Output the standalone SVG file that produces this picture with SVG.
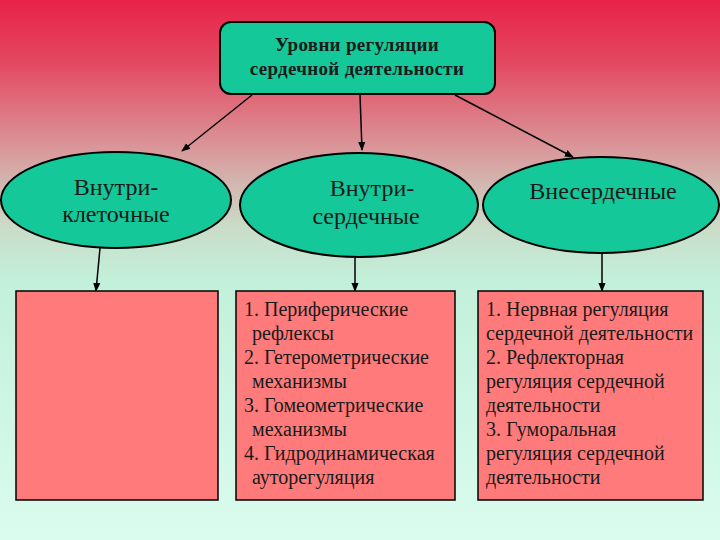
<svg xmlns="http://www.w3.org/2000/svg" width="720" height="540" viewBox="0 0 720 540">
<defs>
<linearGradient id="bg" x1="0" y1="0" x2="0" y2="1">
<stop offset="0" stop-color="#e82248"/>
<stop offset="0.12" stop-color="#e34a62"/>
<stop offset="0.28" stop-color="#d99a9c"/>
<stop offset="0.42" stop-color="#cadcc8"/>
<stop offset="0.52" stop-color="#c2f0da"/>
<stop offset="1" stop-color="#dafcee"/>
</linearGradient>
<marker id="ah" viewBox="0 0 10 10" refX="9" refY="5" markerWidth="6" markerHeight="6" orient="auto">
<path d="M0,1 L10,5 L0,9 z" fill="#000"/>
</marker>
<style>
.oval{fill:#14c899;stroke:#000;stroke-width:2}
.box{fill:#ff7b7b;stroke:#000;stroke-width:1.5}
.conn line{stroke:#000;stroke-width:1.5;marker-end:url(#ah)}
.t{font-family:"Liberation Serif","Times New Roman",serif;fill:#1a1a1a}
.tt{font-size:19px;font-weight:bold;text-anchor:middle;letter-spacing:0.3px}
.ot{font-size:24px;text-anchor:middle}
.bt{font-size:20px}
</style>
</defs>
<rect width="720" height="540" fill="url(#bg)"/>
<g class="conn">
<line x1="252" y1="95" x2="182" y2="151"/>
<line x1="360" y1="95" x2="362" y2="150"/>
<line x1="455" y1="95" x2="573" y2="157"/>
<line x1="100" y1="248" x2="96" y2="291"/>
<line x1="355" y1="258" x2="355" y2="291"/>
<line x1="602" y1="254" x2="602" y2="291"/>
</g>
<g id="top">
<rect x="220" y="22" width="275" height="72" rx="11" fill="#14c899" stroke="#000" stroke-width="2"/>
<text class="t tt" x="357" y="51">Уровни регуляции</text>
<text class="t tt" x="357" y="75">сердечной деятельности</text>
</g>
<g id="intracell">
<ellipse class="oval" cx="116" cy="200" rx="115" ry="48"/>
<text class="t ot" x="116" y="195">Внутри-</text>
<text class="t ot" x="116" y="222">клеточные</text>
</g>
<g id="intracard">
<ellipse class="oval" cx="359" cy="205" rx="119" ry="52"/>
<text class="t ot" x="372" y="196">Внутри-</text>
<text class="t ot" x="366" y="224">сердечные</text>
</g>
<g id="extracard">
<ellipse class="oval" cx="601" cy="205" rx="118" ry="48"/>
<text class="t ot" x="603" y="199">Внесердечные</text>
</g>
<g id="box1">
<rect class="box" x="16" y="291" width="202" height="209"/>
</g>
<g id="box2">
<rect class="box" x="236" y="291" width="219" height="209"/>
<text class="t bt" x="244" y="316">1. Периферические</text>
<text class="t bt" x="252" y="340">рефлексы</text>
<text class="t bt" x="244" y="364">2. Гетерометрические</text>
<text class="t bt" x="252" y="388">механизмы</text>
<text class="t bt" x="244" y="412">3. Гомеометрические</text>
<text class="t bt" x="252" y="436">механизмы</text>
<text class="t bt" x="244" y="460">4. Гидродинамическая</text>
<text class="t bt" x="252" y="484">ауторегуляция</text>
</g>
<g id="box3">
<rect class="box" x="478" y="291" width="225" height="209"/>
<text class="t bt" x="486" y="316">1. Нервная регуляция</text>
<text class="t bt" x="486" y="340">сердечной деятельности</text>
<text class="t bt" x="486" y="364">2. Рефлекторная</text>
<text class="t bt" x="486" y="388">регуляция сердечной</text>
<text class="t bt" x="486" y="412">деятельности</text>
<text class="t bt" x="486" y="436">3. Гуморальная</text>
<text class="t bt" x="486" y="460">регуляция сердечной</text>
<text class="t bt" x="486" y="484">деятельности</text>
</g>
</svg>
